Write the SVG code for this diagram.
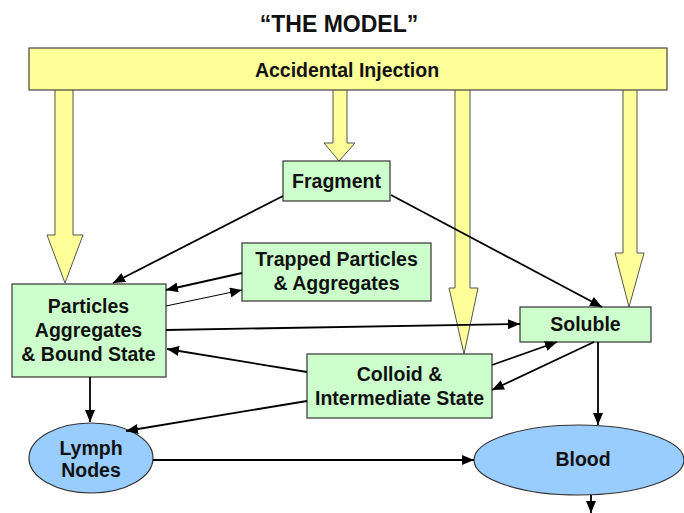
<svg xmlns="http://www.w3.org/2000/svg" width="684" height="513" viewBox="0 0 684 513">
<style>
text{font-family:"Liberation Sans",Arial,sans-serif;font-weight:bold;fill:#111;text-anchor:middle}
.t{font-size:19.5px}
.box{fill:#CCFFCC;stroke:#333;stroke-width:1.2}
.ell{fill:#99CCFF;stroke:#333;stroke-width:1.2}
.ya{fill:#FFFF99;stroke:#555;stroke-width:1}
.c{stroke:#000;stroke-width:1.8;fill:none;marker-end:url(#ah)}
.thin{stroke-width:1}
</style>
<defs>
<marker id="ah" markerUnits="userSpaceOnUse" markerWidth="12" markerHeight="10" refX="12" refY="5" orient="auto" viewBox="0 0 12 10">
<path d="M0,0 L12,5 L0,10 z" fill="#000"/>
</marker>
</defs>
<rect width="684" height="513" fill="#fff"/>
<text x="339" y="32" style="font-size:23px">“THE MODEL”</text>
<g id="inject-arrows">
<polygon class="ya" points="55,88 73,88 73,235 83,235 65,283 47,235 55,235"/>
<polygon class="ya" points="333,88 347,88 347,143 355,143 339,161 324,143 333,143"/>
<polygon class="ya" points="455,88 470,88 470,288 478,288 464,354 449,288 455,288"/>
<polygon class="ya" points="623,88 637,88 637,253 644,253 629,307 615,253 623,253"/>
</g>
<g id="accidental-injection">
<rect x="29" y="48" width="638" height="42" fill="#FFFF99" stroke="#444" stroke-width="1.2"/>
<text class="t" x="347" y="77">Accidental Injection</text>
</g>
<g id="fragment">
<rect class="box" x="283" y="161" width="107" height="40"/>
<text class="t" x="336.5" y="188">Fragment</text>
</g>
<g id="trapped">
<rect class="box" x="242" y="243" width="189" height="58"/>
<text class="t" x="336.5" y="266">Trapped Particles</text>
<text class="t" x="336.5" y="290">&amp; Aggregates</text>
</g>
<g id="particles">
<rect class="box" x="12" y="284" width="154" height="93"/>
<text class="t" x="88.5" y="313">Particles</text>
<text class="t" x="88.5" y="337">Aggregates</text>
<text class="t" x="88.5" y="361">&amp; Bound State</text>
</g>
<g id="soluble">
<rect class="box" x="520" y="307" width="131" height="35"/>
<text class="t" x="585.5" y="331">Soluble</text>
</g>
<g id="colloid">
<rect class="box" x="307" y="354" width="185" height="64"/>
<text class="t" x="399.5" y="381">Colloid &amp;</text>
<text class="t" x="399.5" y="405">Intermediate State</text>
</g>
<g id="lymph">
<ellipse class="ell" cx="91" cy="458" rx="62" ry="35"/>
<text class="t" x="91" y="455">Lymph</text>
<text class="t" x="91" y="477">Nodes</text>
</g>
<g id="blood">
<ellipse class="ell" cx="579" cy="460" rx="105" ry="35"/>
<text class="t" x="583" y="466">Blood</text>
</g>
<g id="connectors">
<path class="c" d="M283,196 L113,283"/>
<path class="c" d="M391,195 L602,307"/>
<path class="c" d="M242,273 L166,290"/>
<path class="c thin" d="M166,306 L242,290"/>
<path class="c" d="M166,330 L520,324"/>
<path class="c" d="M307,372 L167,349"/>
<path class="c" d="M492,365 L557,342"/>
<path class="c" d="M594,342 L492,390"/>
<path class="c" d="M307,401 L126,431"/>
<path class="c" d="M90,377 L90,422"/>
<path class="c" d="M598,342 L598,425"/>
<path class="c" d="M153,460 L474,460"/>
<path class="c" d="M591,495 L591,513"/>
</g>
</svg>
